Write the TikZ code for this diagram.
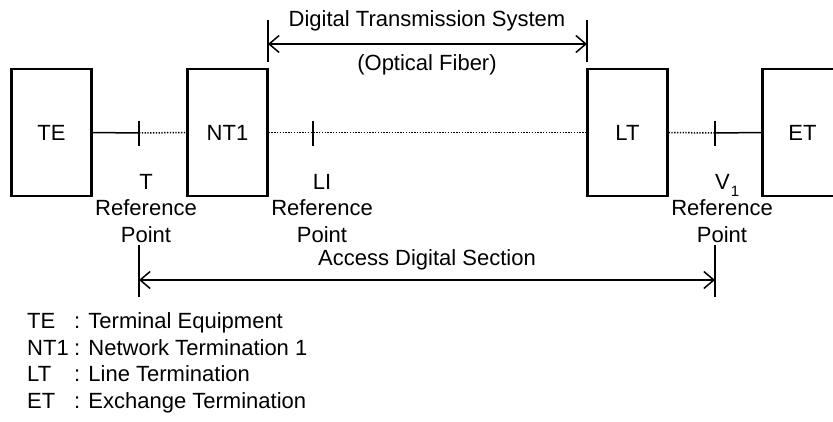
\documentclass[tikz,border=0pt]{standalone}
\usepackage{fontspec}
\setmainfont{Liberation Sans}
\usetikzlibrary{arrows.meta}
\begin{document}
\begin{tikzpicture}[x=1pt,y=-1pt,
  txt/.style={font=\fontsize{22}{26}\selectfont,inner sep=0pt},
  blk/.style={draw,line width=2.2pt,minimum width=80pt,minimum height=127pt,inner sep=0pt,font=\fontsize{22}{26}\selectfont},
  wire/.style={line width=1.5pt},
  dots/.style={line width=1.5pt,dash pattern=on 1.3pt off 1.5pt},
  tick/.style={line width=1.5pt},
  dimarrow/.style={line width=1.5pt,{Straight Barb[length=10pt,width=17pt,line width=1.5pt]}-{Straight Barb[length=10pt,width=17pt,line width=1.5pt]}}
]
\useasboundingbox (0,0) rectangle (833,421);
\clip (0,0) rectangle (833,421);
% blocks
\node[blk] (TE) at (51.5,132.5) {TE};
\node[blk] (NT1) at (227.5,132.5) {NT1};
\node[blk] (LT) at (627.5,132.5) {LT};
\node[blk] (ET) at (802.5,132.5) {ET};
% reference point ticks
\coordinate (tT) at (139,133);
\coordinate (tLI) at (313,133);
\coordinate (tV) at (715,133);
\foreach \c in {tT,tLI,tV}{\draw[tick] (\c)++(0,-12.5) -- ++(0,25);}
% connectors
\draw[wire] (TE.east) -- (tT);
\draw[dots] (tT) -- (NT1.west);
\draw[dots] (NT1.east) -- (LT.west);
\draw[wire] (tV) -- (ET.west);
\draw[dots] (LT.east) -- (tV);
% top dimension
\coordinate (dtsL) at (268,44);
\coordinate (dtsR) at (587,44);
\draw[tick] (268,20) -- (268,62);
\draw[tick] (587,20) -- (587,62);
\draw[dimarrow] (dtsL) -- (dtsR);
\node[txt,anchor=base] (dts) at (427,26) {Digital Transmission System};
\node[txt,anchor=base] (of) at (427,70) {(Optical Fiber)};
% reference labels
\node[txt,anchor=base] (lT) at (146,189) {T};
\node[txt,anchor=base] (lT2) at (146,215) {Reference};
\node[txt,anchor=base] (lT3) at (146,242) {Point};
\node[txt,anchor=base] (lLI) at (322,189) {LI};
\node[txt,anchor=base] (lLI2) at (322,215) {Reference};
\node[txt,anchor=base] (lLI3) at (322,242) {Point};
\node[txt,anchor=base west] (lV) at (715,189) {V\kern1pt\raisebox{-7pt}{\fontsize{15}{15}\selectfont 1}};
\node[txt,anchor=base] (lV2) at (722,215) {Reference};
\node[txt,anchor=base] (lV3) at (722,242) {Point};
% bottom dimension
\coordinate (adsL) at (139,280);
\coordinate (adsR) at (715,280);
\draw[tick] (139,245) -- (139,297);
\draw[tick] (715,245) -- (715,297);
\draw[dimarrow] (adsL) -- (adsR);
\node[txt,anchor=base] (ads) at (427,265) {Access Digital Section};
% legend
\node[txt,anchor=base west] (k1) at (27,328) {TE};
\node[txt,anchor=base west] (k2) at (27,355) {NT1};
\node[txt,anchor=base west] (k3) at (27,381.5) {LT};
\node[txt,anchor=base west] (k4) at (27,408) {ET};
\node[txt,anchor=base west] (d1) at (74,328) {: Terminal Equipment};
\node[txt,anchor=base west] (d2) at (74,355) {: Network Termination 1};
\node[txt,anchor=base west] (d3) at (74,381.5) {: Line Termination};
\node[txt,anchor=base west] (d4) at (74,408) {: Exchange Termination};
\end{tikzpicture}
\end{document}
